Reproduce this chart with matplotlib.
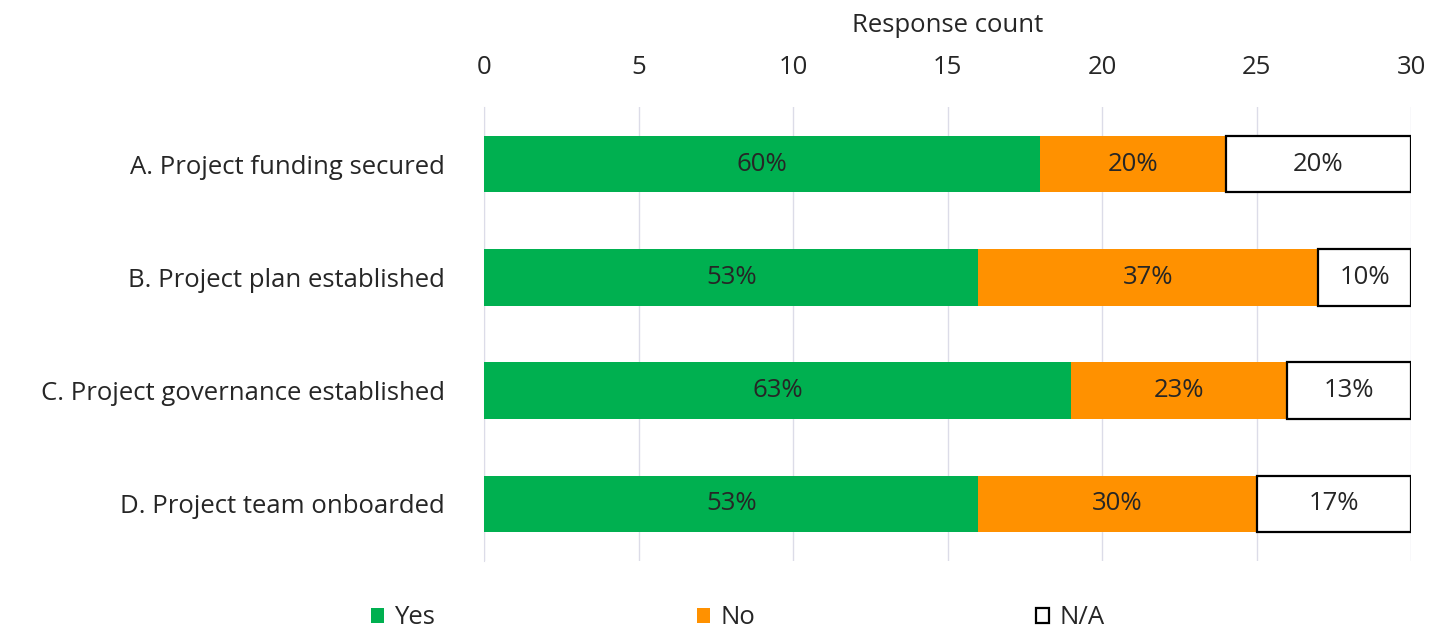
import numpy as np
import matplotlib.pyplot as plt

plt.rcParams['font.family'] = ['Open Sans', 'DejaVu Sans']

categories = ["A. Project funding secured", "B. Project plan established",
              "C. Project governance established", "D. Project team onboarded"]
yes = [18, 16, 19, 16]
no = [6, 11, 7, 9]
na = [6, 3, 4, 5]
yes_pct = ["60%", "53%", "63%", "53%"]
no_pct = ["20%", "37%", "23%", "30%"]
na_pct = ["20%", "10%", "13%", "17%"]

txt = '#262626'
fs = 18.5
fig = plt.figure(figsize=(14.45, 6.32), dpi=100)
ax = fig.add_axes([0.335, 0.113, 0.6415, 0.717])

y = np.arange(len(categories))
yes_a = np.array(yes)
no_a = np.array(no)
na_a = np.array(na)

b1 = ax.barh(y, yes_a, height=0.5, color='#00b050', label='Yes', zorder=3)
b2 = ax.barh(y, no_a, left=yes_a, height=0.5, color='#ff9100', label='No', zorder=3)
b3 = ax.barh(y, na_a, left=yes_a + no_a, height=0.5, color='white',
             edgecolor='black', linewidth=1.6, label='N/A', zorder=3)

for bars, labs in [(b1, yes_pct), (b2, no_pct), (b3, na_pct)]:
    ax.bar_label(bars, labels=labs, label_type='center', fontsize=fs, color=txt)

ax.set_xlim(0, 30)
ax.set_ylim(3.5, -0.5)
ax.set_xticks(range(0, 31, 5))
ax.xaxis.tick_top()
ax.xaxis.set_label_position('top')
ax.set_xlabel('Response count', fontsize=fs, color=txt, labelpad=16)
ax.tick_params(axis='x', length=0, labelsize=fs, labelcolor=txt, pad=20)
ax.set_yticks(y)
ax.set_yticklabels(categories)
ax.tick_params(axis='y', length=0, labelsize=fs, labelcolor=txt, pad=28)

ax.grid(axis='x', color='#dcdce8', linewidth=1, zorder=0)
for s in ['top', 'right', 'bottom']:
    ax.spines[s].set_visible(False)
ax.spines['left'].set_color('#dcdce8')

# one legend entry per slot, like the evenly spaced Excel legend
for h, xpx in zip([b1, b2, b3], [371, 697, 1036]):
    fig.legend(handles=[h], loc='center left', frameon=False,
               bbox_to_anchor=(xpx / 1445, 1 - 618 / 632), fontsize=fs,
               borderpad=0, borderaxespad=0, handlelength=0.5, handleheight=0.5,
               handletextpad=0.4, labelcolor=txt)

fig.savefig('out.png', dpi=100)
